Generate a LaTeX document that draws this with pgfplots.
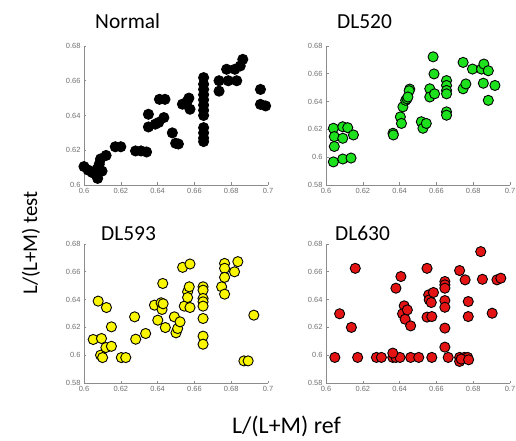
\documentclass[border=0pt]{standalone}
\usepackage{pgfplots}
\pgfplotsset{compat=1.18}
\usepackage{fontspec}
\setmainfont{Carlito}
\newfontfamily\tickfont{Liberation Sans}
\definecolor{dlgreen}{RGB}{30,225,30}
\definecolor{dlyellow}{RGB}{250,245,0}
\definecolor{dlred}{RGB}{228,20,20}
\definecolor{axgray}{RGB}{140,140,140}
\definecolor{tkgray}{RGB}{110,110,110}
\pgfplotsset{
  panel/.style={
    scale only axis, width=184bp, height=139bp,
    xmin=0.6, xmax=0.7, ymax=0.68,
    axis lines=left,
    axis line style={-, draw=axgray, line width=0.8pt},
    xtick={0.6,0.62,0.64,0.66,0.68,0.7},
    tick style={draw=axgray, line width=0.6pt},
    major tick length=2.5pt,
    tick align=inside,
    ticklabel style={font=\tickfont\fontsize{7.5}{8}\selectfont, text=tkgray},
    /pgf/number format/assume math mode=true,
    anchor=south west,
    clip=false,
  },
  pts/.style={only marks, mark=*, mark size=5.1pt,
    mark options={draw=black, line width=0.9pt, fill=#1}},
}
\begin{document}
\begin{tikzpicture}[x=1bp,y=1bp]
\useasboundingbox (0,0) rectangle (516,441);
% Normal
\begin{axis}[panel, at={(84bp,256bp)}, ymin=0.6,
  ytick={0.6,0.62,0.64,0.66,0.68}]
\addplot[pts=black] table {
0.6000 0.6106
0.6022 0.6086
0.6046 0.6071
0.6074 0.6038
0.6070 0.6090
0.6083 0.6120
0.6098 0.6080
0.6090 0.6150
0.6120 0.6170
0.6170 0.6220
0.6200 0.6220
0.6280 0.6196
0.6310 0.6196
0.6340 0.6190
0.6350 0.6407
0.6350 0.6334
0.6387 0.6350
0.6406 0.6360
0.6434 0.6388
0.6410 0.6493
0.6440 0.6493
0.6480 0.6300
0.6498 0.6240
0.6513 0.6236
0.6535 0.6465
0.6560 0.6480
0.6576 0.6436
0.6570 0.6500
0.6650 0.6618
0.6650 0.6580
0.6650 0.6550
0.6650 0.6520
0.6650 0.6490
0.6650 0.6460
0.6650 0.6430
0.6650 0.6400
0.6650 0.6330
0.6650 0.6300
0.6650 0.6270
0.6650 0.6250
0.6734 0.6540
0.6734 0.6600
0.6775 0.6666
0.6784 0.6600
0.6830 0.6600
0.6820 0.6666
0.6849 0.6685
0.6863 0.6723
0.6959 0.6550
0.6959 0.6464
0.6987 0.6455
};
\end{axis}
% DL520
\begin{axis}[panel, at={(326bp,256bp)}, ymin=0.58,
  ytick={0.58,0.6,0.62,0.64,0.66,0.68}]
\addplot[pts=dlgreen] table {
0.6040 0.6208
0.6045 0.6148
0.6045 0.6077
0.6040 0.5966
0.6091 0.6219
0.6118 0.6212
0.6091 0.6136
0.6091 0.5987
0.6136 0.5994
0.6149 0.6160
0.6364 0.6172
0.6366 0.6160
0.6404 0.6290
0.6410 0.6243
0.6418 0.6362
0.6433 0.6409
0.6440 0.6420
0.6455 0.6490
0.6452 0.6478
0.6445 0.6433
0.6518 0.6255
0.6527 0.6208
0.6545 0.6243
0.6564 0.6492
0.6564 0.6433
0.6582 0.6722
0.6587 0.6599
0.6590 0.6456
0.6655 0.6551
0.6655 0.6516
0.6655 0.6480
0.6655 0.6456
0.6655 0.6326
0.6655 0.6302
0.6745 0.6682
0.6745 0.6492
0.6760 0.6527
0.6796 0.6634
0.6845 0.6634
0.6858 0.6670
0.6882 0.6622
0.6855 0.6532
0.6882 0.6409
0.6918 0.6516
};
\end{axis}
% DL593
\begin{axis}[panel, at={(84bp,58bp)}, ymin=0.58,
  ytick={0.58,0.6,0.62,0.64,0.66,0.68}]
\addplot[pts=dlyellow] table {
0.6050 0.6113
0.6077 0.6389
0.6095 0.6120
0.6090 0.6000
0.6101 0.5983
0.6119 0.6055
0.6122 0.6343
0.6149 0.6204
0.6149 0.6064
0.6203 0.5983
0.6227 0.5983
0.6275 0.6276
0.6281 0.6115
0.6335 0.6156
0.6383 0.6360
0.6401 0.6252
0.6419 0.6377
0.6424 0.6329
0.6428 0.6516
0.6442 0.6199
0.6430 0.6370
0.6491 0.6276
0.6500 0.6161
0.6509 0.6192
0.6522 0.6240
0.6536 0.6632
0.6576 0.6656
0.6545 0.6353
0.6563 0.6456
0.6563 0.6415
0.6576 0.6343
0.6572 0.6492
0.6647 0.6492
0.6647 0.6468
0.6647 0.6408
0.6647 0.6384
0.6647 0.6353
0.6647 0.6264
0.6647 0.6137
0.6647 0.6079
0.6748 0.6492
0.6764 0.6439
0.6764 0.6660
0.6764 0.6625
0.6764 0.6560
0.6818 0.6600
0.6836 0.6673
0.6869 0.5959
0.6892 0.5959
0.6923 0.6288
};
\end{axis}
% DL630
\begin{axis}[panel, at={(326bp,58bp)}, ymin=0.58,
  ytick={0.58,0.6,0.62,0.64,0.66,0.68}]
\addplot[pts=dlred] table {
0.6048 0.5984
0.6172 0.5984
0.6274 0.5984
0.6301 0.5984
0.6363 0.5984
0.6380 0.5984
0.6402 0.5984
0.6460 0.5984
0.6504 0.5984
0.6575 0.5984
0.6664 0.5984
0.6726 0.5984
0.6752 0.5984
0.6770 0.5984
0.6363 0.6015
0.6726 0.5955
0.6735 0.5972
0.6775 0.5967
0.6074 0.6298
0.6138 0.6200
0.6159 0.6625
0.6380 0.6482
0.6407 0.6566
0.6425 0.6355
0.6416 0.6298
0.6430 0.6259
0.6442 0.6326
0.6460 0.6211
0.6549 0.6625
0.6558 0.6434
0.6561 0.6398
0.6572 0.6379
0.6549 0.6274
0.6575 0.6278
0.6584 0.6451
0.6646 0.6530
0.6646 0.6506
0.6646 0.6482
0.6646 0.6393
0.6646 0.6345
0.6646 0.6195
0.6646 0.6058
0.6726 0.6609
0.6756 0.6542
0.6773 0.6386
0.6773 0.6278
0.6841 0.6745
0.6850 0.6546
0.6903 0.6302
0.6929 0.6542
0.6950 0.6554
};
\end{axis}
% titles
\node[anchor=base west, inner sep=0pt, font=\fontsize{21.5}{24}\selectfont] at (95,412.5) {Normal};
\node[anchor=base west, inner sep=0pt, font=\fontsize{21.5}{24}\selectfont] at (337,412.5) {DL520};
\node[anchor=base west, inner sep=0pt, font=\fontsize{21.5}{24}\selectfont] at (101,200) {DL593};
\node[anchor=base west, inner sep=0pt, font=\fontsize{21.5}{24}\selectfont] at (335,200) {DL630};
% axis labels
\node[anchor=base, inner sep=0pt, font=\fontsize{24}{28}\selectfont] at (286.5,7) {L/(L+M) ref};
\node[anchor=base, rotate=90, inner sep=0pt, font=\fontsize{21}{24}\selectfont] at (37,198) {L/(L+M) test};
\end{tikzpicture}
\end{document}
